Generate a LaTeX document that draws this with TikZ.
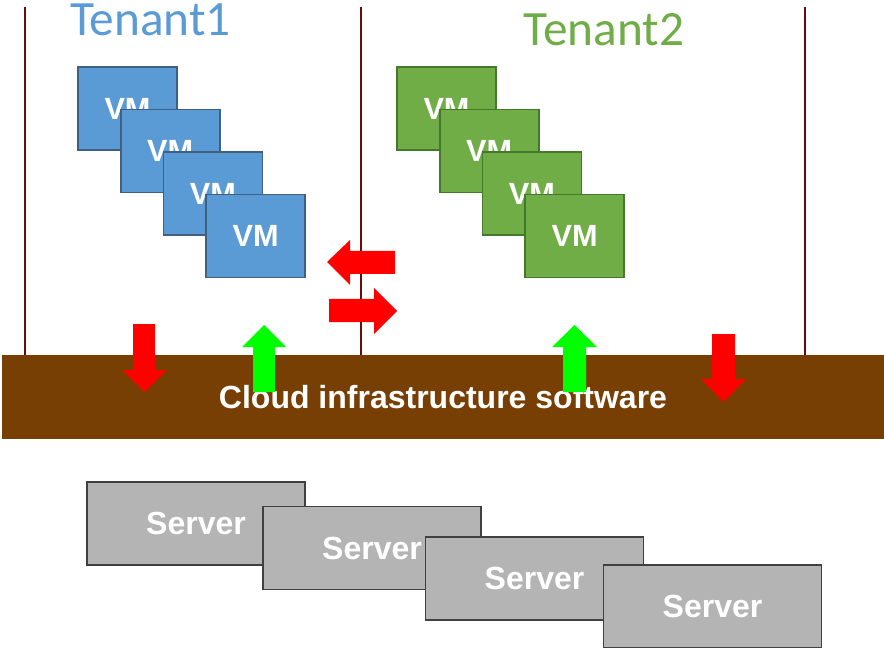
\documentclass[tikz,border=0pt]{standalone}
\usepackage{fontspec}
\setmainfont{Liberation Sans}
\newfontfamily\tenantfont{Carlito}
\usetikzlibrary{positioning}
\definecolor{vmblue}{HTML}{5B9BD5}
\definecolor{vmblueedge}{HTML}{41607F}
\definecolor{vmgreen}{HTML}{70AD47}
\definecolor{vmgreenedge}{HTML}{44782A}
\definecolor{servergrey}{HTML}{B4B4B4}
\definecolor{serveredge}{HTML}{404040}
\definecolor{infrabrown}{HTML}{783F04}
\definecolor{divider}{HTML}{6E0C0C}
\definecolor{flowred}{HTML}{FF0000}
\definecolor{flowgreen}{HTML}{00FF00}

\begin{document}
\begin{tikzpicture}[
    x=0.75pt, y=-0.75pt,
    vmbox/.style={
        rectangle, draw, line width=1.2pt,
        minimum width=74.25pt, minimum height=62.25pt,
        text=white, font=\fontsize{23}{23}\selectfont\bfseries
    },
    bluevm/.style={vmbox, draw=vmblueedge, fill=vmblue},
    greenvm/.style={vmbox, draw=vmgreenedge, fill=vmgreen},
    server/.style={
        rectangle, draw=serveredge, fill=servergrey, line width=1.2pt,
        minimum width=163.5pt, minimum height=62.25pt,
        text=white, font=\fontsize{24}{24}\selectfont\bfseries
    },
    infra/.style={
        rectangle, fill=infrabrown,
        minimum width=661.5pt, minimum height=63pt,
        text=white, font=\fontsize{24}{24}\selectfont\bfseries
    },
    tenant/.style={anchor=base, inner sep=0pt, font=\tenantfont\fontsize{37}{37}\selectfont},
    divline/.style={draw=divider, line width=1.4pt},
    redflow/.style={fill=flowred},
    greenflow/.style={fill=flowgreen},
]
\useasboundingbox (0,0) rectangle (884,648);

% tenant dividers
\draw[divline] (25,7)  -- (25,355);
\draw[divline] (361,7) -- (361,355);
\draw[divline] (805,7) -- (805,355);

\node[tenant, text=vmblue]  (t1) at (150.5,35.5) {Tenant1};
\node[tenant, text=vmgreen] (t2) at (604,46)     {Tenant2};

% tenant 1 VMs
\node[bluevm] (b1) at (127.5,108.5) {VM};
\node[bluevm] (b2) at (170.2,151)   {VM};
\node[bluevm] (b3) at (212.9,193.5) {VM};
\node[bluevm] (b4) at (255.6,236)   {VM};

% tenant 2 VMs
\node[greenvm] (g1) at (446.5,108.5) {VM};
\node[greenvm] (g2) at (489.2,151)   {VM};
\node[greenvm] (g3) at (531.9,193.5) {VM};
\node[greenvm] (g4) at (574.6,236)   {VM};

\node[infra] (cloud) at (443,397) {Cloud infrastructure software};

% servers
\node[server] (s1) at (196,523.5)   {Server};
\node[server] (s2) at (372,548)     {Server};
\node[server] (s3) at (534.5,578.5) {Server};
\node[server] (s4) at (712.5,606.5) {Server};

% traffic between tenants
\fill[redflow] (327,262) -- (350,240) -- (350,251) -- (395,251) -- (395,274) -- (350,274) -- (350,285) -- cycle;
\fill[redflow] (397,311) -- (374,288) -- (374,299) -- (329,299) -- (329,322) -- (374,322) -- (374,334) -- cycle;

% traffic to and from the infrastructure
\fill[redflow] (144.5,392) -- (122,370) -- (133,370) -- (133,324) -- (155,324) -- (155,370) -- (167,370) -- cycle;
\fill[greenflow] (264,325) -- (242,347) -- (253,347) -- (253,392) -- (275,392) -- (275,347) -- (286,347) -- cycle;
\fill[greenflow] (574.5,325) -- (552,347) -- (563,347) -- (563,392) -- (586,392) -- (586,347) -- (597,347) -- cycle;
\fill[redflow] (723.5,402) -- (701,379) -- (712,379) -- (712,334) -- (735,334) -- (735,379) -- (746,379) -- cycle;

\end{tikzpicture}
\end{document}
